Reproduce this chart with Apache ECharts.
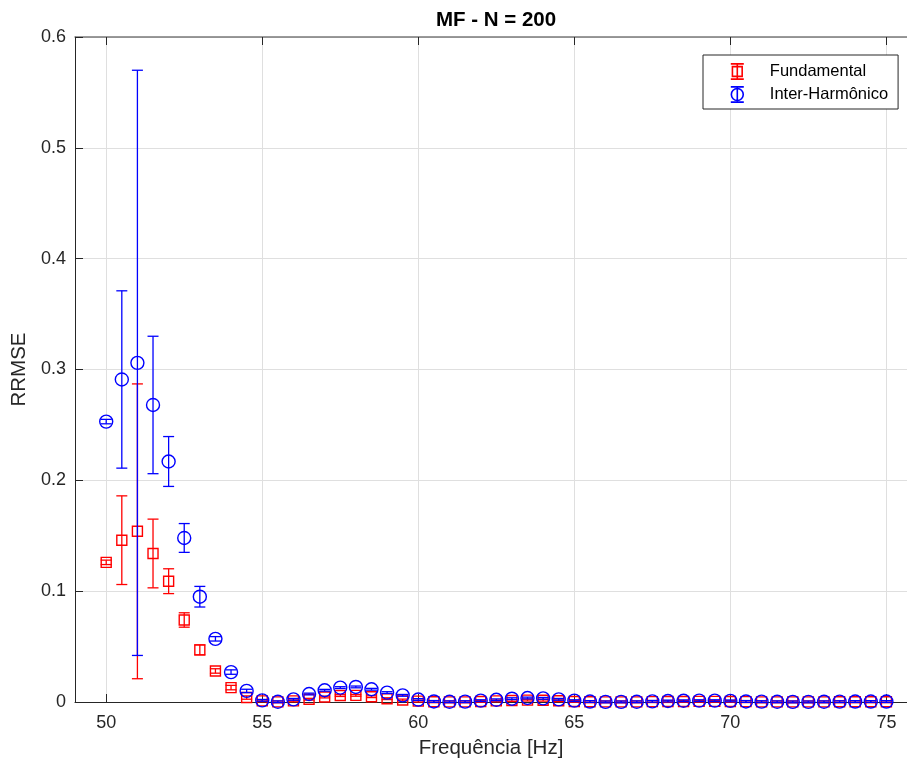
<!DOCTYPE html>
<html>
<head>
<meta charset="utf-8">
<title>MF - N = 200</title>
<script src="https://cdn.jsdelivr.net/npm/echarts@6/dist/echarts.min.js"></script>
<style>
  html, body { margin: 0; padding: 0; background: #fff; }
  #chart { width: 907px; height: 762px; }
</style>
</head>
<body>
<div id="chart"></div>
<script>
// Frequency grid (Hz)
const freq = [
  50, 50.5, 51, 51.5, 52, 52.5, 53, 53.5, 54, 54.5,
  55, 55.5, 56, 56.5, 57, 57.5, 58, 58.5, 59, 59.5,
  60, 60.5, 61, 61.5, 62, 62.5, 63, 63.5, 64, 64.5,
  65, 65.5, 66, 66.5, 67, 67.5, 68, 68.5, 69, 69.5,
  70, 70.5, 71, 71.5, 72, 72.5, 73, 73.5, 74, 74.5, 75
];

// Fundamental: mean RRMSE and half-width of the error bar
const fundMean = [
  0.126, 0.146, 0.154, 0.134, 0.109, 0.074, 0.047, 0.028, 0.013, 0.004,
  0.001, 0.0001, 0.001, 0.0025, 0.0045, 0.0058, 0.006, 0.0048, 0.003, 0.0018,
  0.0008, 0.0002, 0.0001, 0.0001, 0.0005, 0.001, 0.0014, 0.0017, 0.0016, 0.0011,
  0.0005, 0.0002, 0.0001, 0.0001, 0.0001, 0.0003, 0.0004, 0.0005, 0.0006, 0.0006,
  0.0005, 0.0003, 0.0001, 0.0001, 0.0001, 0.0001, 0.0001, 0.0002, 0.0002, 0.0002, 0.0002
];
const fundErr = [
  0.002, 0.040, 0.133, 0.031, 0.0112, 0.0065, 0.0045, 0.002, 0.002, 0.0015,
  0.0008, 0.0008, 0.0008, 0.0008, 0.0008, 0.0008, 0.0008, 0.0008, 0.0008, 0.0008,
  0.0008, 0.0008, 0.0008, 0.0008, 0.0008, 0.0008, 0.0008, 0.0008, 0.0008, 0.0008,
  0.0008, 0.0008, 0.0008, 0.0008, 0.0008, 0.0008, 0.0008, 0.0008, 0.0008, 0.0008,
  0.0008, 0.0008, 0.0008, 0.0008, 0.0008, 0.0008, 0.0008, 0.0008, 0.0008, 0.0008, 0.0008
];

// Inter-harmonic: mean RRMSE and half-width of the error bar
const interMean = [
  0.253, 0.291, 0.306, 0.268, 0.217, 0.148, 0.095, 0.057, 0.027, 0.010,
  0.0015, 0.0002, 0.0024, 0.0072, 0.0106, 0.013, 0.0136, 0.0115, 0.0085, 0.006,
  0.0022, 0.0005, 0.0002, 0.0003, 0.0012, 0.002, 0.003, 0.0036, 0.0033, 0.0024,
  0.0012, 0.0004, 0.0001, 0.0001, 0.0002, 0.0006, 0.0009, 0.0011, 0.0012, 0.0012,
  0.001, 0.0005, 0.0003, 0.0002, 0.0001, 0.0001, 0.0002, 0.0003, 0.0004, 0.0004, 0.0004
];
const interErr = [
  0.002, 0.080, 0.264, 0.062, 0.0225, 0.013, 0.0093, 0.002, 0.002, 0.0015,
  0.0008, 0.0008, 0.0008, 0.0008, 0.0008, 0.0008, 0.0008, 0.0008, 0.0008, 0.0008,
  0.0008, 0.0008, 0.0008, 0.0008, 0.0008, 0.0008, 0.0008, 0.0008, 0.0008, 0.0008,
  0.0008, 0.0008, 0.0008, 0.0008, 0.0008, 0.0008, 0.0008, 0.0008, 0.0008, 0.0008,
  0.0008, 0.0008, 0.0008, 0.0008, 0.0008, 0.0008, 0.0008, 0.0008, 0.0008, 0.0008, 0.0008
];

const xTicks = [50, 55, 60, 65, 70, 75];
const seriesNames = ['Fundamental', 'Inter-Harmônico'];
const titleText = 'MF - N = 200';
const xName = 'Frequência [Hz]';
const yName = 'RRMSE';

const RED = '#ff0000';
const BLUE = '#0000ff';
const INK = '#262626';
const FONT = '"Liberation Sans", Arial, Helvetica, sans-serif';

function rows(mean, err) {
  return freq.map((f, i) => [f, mean[i], err[i]]);
}

// Error bar with caps plus a hollow marker (square or circle)
function errorBarRenderer(shape, color) {
  return function (params, api) {
    const x = api.value(0), m = api.value(1), e = api.value(2);
    const c = api.coord([x, m]);
    const hi = api.coord([x, m + e]);
    const lo = api.coord([x, m - e]);
    const hw = 5.5;
    const st = { stroke: color, fill: 'none', lineWidth: 1.3 };
    const mk = { stroke: color, fill: 'none', lineWidth: 1.4 };
    const children = [
      { type: 'line', shape: { x1: c[0], y1: hi[1], x2: c[0], y2: lo[1] }, style: st },
      { type: 'line', shape: { x1: c[0] - hw, y1: hi[1], x2: c[0] + hw, y2: hi[1] }, style: st },
      { type: 'line', shape: { x1: c[0] - hw, y1: lo[1], x2: c[0] + hw, y2: lo[1] }, style: st }
    ];
    if (shape === 'square') {
      children.push({ type: 'rect', shape: { x: c[0] - 5, y: c[1] - 5, width: 10, height: 10 }, style: mk });
    } else {
      children.push({ type: 'circle', shape: { cx: c[0], cy: c[1], r: 6.5 }, style: mk });
    }
    return { type: 'group', children: children };
  };
}

const iconSquare = 'path://M0,1L12,1M6,1L6,15M0,15L12,15M1.5,3.5L10.5,3.5L10.5,12.5L1.5,12.5Z';
const iconCircle = 'path://M0,1L12,1M6,1L6,15M0,15L12,15M0.5,8A5.5,5.5,0,1,1,11.5,8A5.5,5.5,0,1,1,0.5,8Z';

const chart = echarts.init(document.getElementById('chart'), null, { renderer: 'canvas' });

const xCommon = {
  type: 'value',
  min: 49,
  max: 75.66,
  axisLine: { show: true, lineStyle: { color: INK, width: 1 } },
  axisTick: { show: true, inside: true, length: 8, customValues: xTicks, lineStyle: { color: INK } },
  splitLine: { show: false }
};

chart.setOption({
  animation: false,
  backgroundColor: '#ffffff',
  textStyle: { fontFamily: FONT },
  title: {
    text: titleText,
    left: 491,
    textAlign: 'center',
    top: 5,
    textStyle: { fontFamily: FONT, fontSize: 20.5, fontWeight: 'bold', color: '#000' }
  },
  grid: { left: 75, right: 0, top: 37, bottom: 60, containLabel: false, outerBoundsMode: 'none' },
  legend: {
    orient: 'vertical',
    left: 703,
    top: 55,
    padding: [8, 10, 6, 27],
    itemWidth: 13,
    itemHeight: 17,
    itemGap: 6,
    borderColor: INK,
    borderWidth: 1,
    backgroundColor: '#fff',
    textStyle: { fontFamily: FONT, fontSize: 16.5, color: '#000', padding: [0, 0, 0, 21] },
    data: [
      { name: seriesNames[0], icon: iconSquare, itemStyle: { color: 'transparent', borderColor: RED, borderWidth: 1.6 } },
      { name: seriesNames[1], icon: iconCircle, itemStyle: { color: 'transparent', borderColor: BLUE, borderWidth: 1.6 } }
    ]
  },
  xAxis: [
    Object.assign({}, xCommon, {
      position: 'bottom',
      name: xName,
      nameLocation: 'middle',
      nameGap: 36,
      nameTextStyle: { fontFamily: FONT, fontSize: 20.5, color: INK },
      axisLabel: { show: true, customValues: xTicks, margin: 12, fontFamily: FONT, fontSize: 18, color: INK },
      splitLine: { show: true, lineStyle: { color: '#dfdfdf', width: 1 } }
    }),
    Object.assign({}, xCommon, {
      position: 'top',
      axisLabel: { show: false },
      axisLine: { show: true, lineStyle: { color: '#7a7a7a', width: 1.5 } }
    })
  ],
  yAxis: {
    type: 'value',
    min: 0,
    max: 0.6,
    interval: 0.1,
    name: yName,
    nameLocation: 'middle',
    nameGap: 41,
    nameTextStyle: { fontFamily: FONT, fontSize: 20.5, color: INK },
    axisLine: { show: true, lineStyle: { color: INK } },
    axisTick: { show: true, inside: true, length: 8, lineStyle: { color: INK } },
    axisLabel: { margin: 9, fontFamily: FONT, fontSize: 18, color: INK },
    splitLine: { show: true, lineStyle: { color: '#dfdfdf', width: 1 } }
  },
  series: [
    {
      name: seriesNames[0],
      type: 'custom',
      xAxisIndex: 0,
      renderItem: errorBarRenderer('square', RED),
      encode: { x: 0, y: 1 },
      itemStyle: { color: RED },
      data: rows(fundMean, fundErr),
      clip: false,
      z: 2
    },
    {
      name: seriesNames[1],
      type: 'custom',
      xAxisIndex: 0,
      renderItem: errorBarRenderer('circle', BLUE),
      encode: { x: 0, y: 1 },
      itemStyle: { color: BLUE },
      data: rows(interMean, interErr),
      clip: false,
      z: 3
    }
  ]
});
</script>
</body>
</html>
